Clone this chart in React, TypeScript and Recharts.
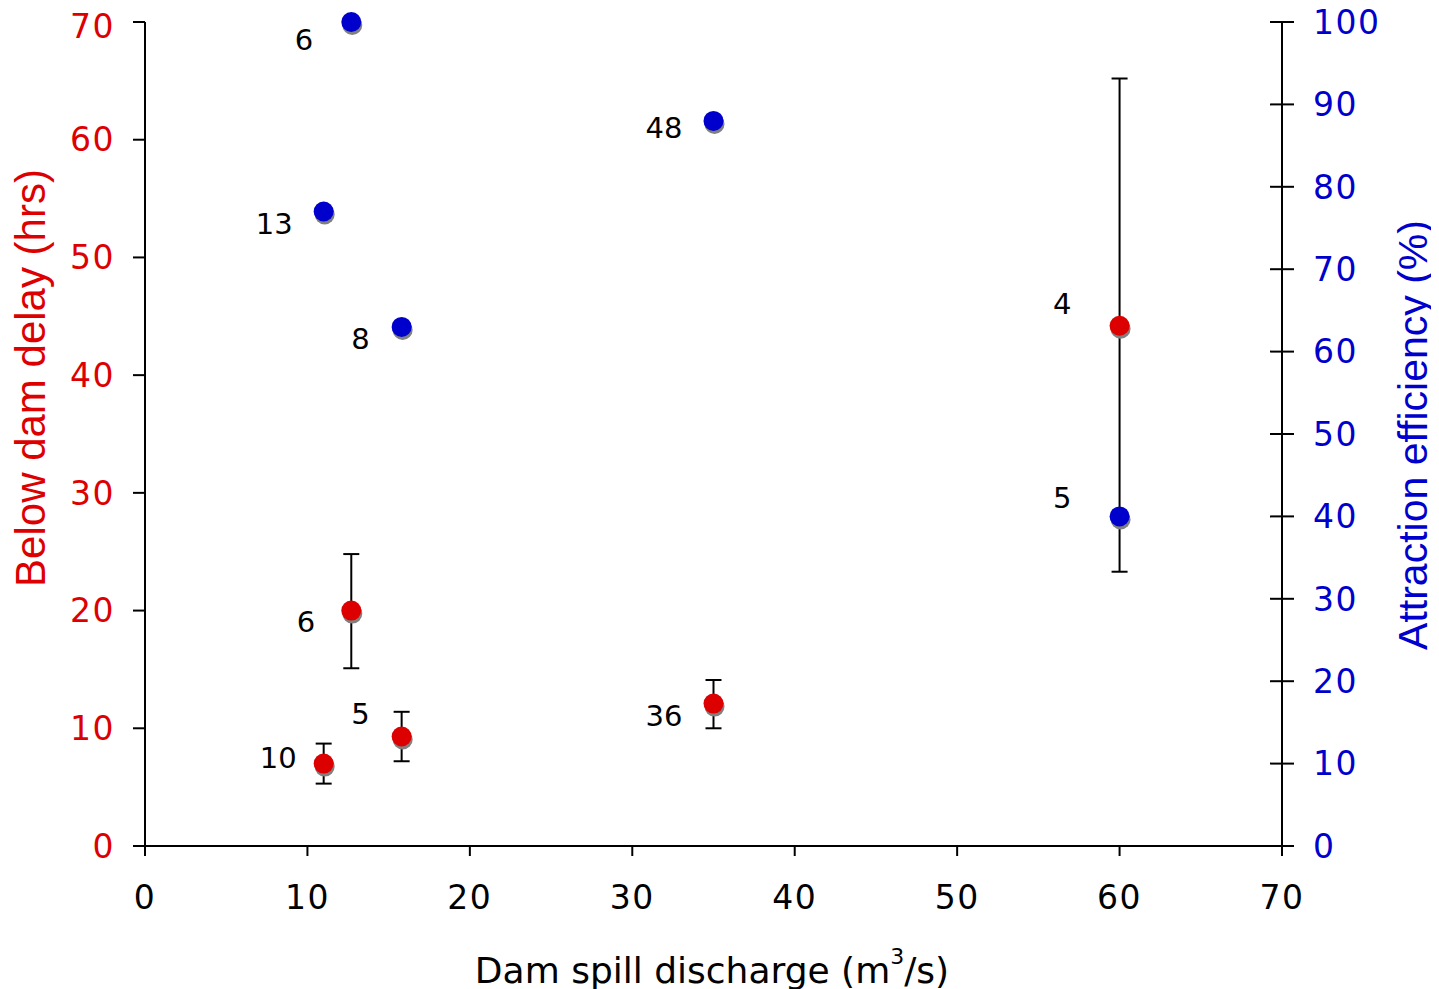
import { ScatterChart, Scatter, XAxis, YAxis, ErrorBar, Label } from 'recharts'

const RED = '#dd0000'
const BLUE = '#0000cc'

// below dam delay (left axis, hrs)
const delayDischarge = [11, 12.7, 15.8, 35, 60]
const delayHours = [7.0, 20.0, 9.3, 12.1, 44.2]
const delayErrLow = [1.7, 4.9, 2.1, 2.1, 20.9]
const delayErrHigh = [1.7, 4.8, 2.1, 2.0, 21.0]
const delayN = [10, 6, 5, 36, 4]

// attraction efficiency (right axis, %)
const effDischarge = [11, 12.7, 15.8, 35, 60]
const effPercent = [77, 100, 63, 88, 40]
const effN = [13, 6, 8, 48, 5]

const xTicks = [0, 10, 20, 30, 40, 50, 60, 70]
const leftTicks = [0, 10, 20, 30, 40, 50, 60, 70]
const rightTicks = [0, 10, 20, 30, 40, 50, 60, 70, 80, 90, 100]

// where each n label sits relative to its dot: [right edge dx, dy]
const delayLabelNudge = [[-27, -6], [-36, 11], [-32, -23], [-31, 12], [-48, -22]]
const effLabelNudge = [[-31, 12], [-38, 18], [-32, 12], [-31, 7], [-48, -18]]

const delayData = delayDischarge.map((x, i) => ({
  x, y: delayHours[i], err: [delayErrLow[i], delayErrHigh[i]], n: delayN[i], i,
}))
const effData = effDischarge.map((x, i) => ({ x, y: effPercent[i], n: effN[i], i }))

const TICK_FONT = 33
const TITLE_FONT = '"Liberation Sans", Arial, sans-serif'

function makeDot(color: string, nudges: number[][]) {
  return (props: any) => {
    const { cx, cy, payload } = props
    const [dx, dy] = nudges[payload.i]
    return (
      <g>
        <circle cx={cx + 1} cy={cy + 3} r={10} fill="#808080" />
        <circle cx={cx} cy={cy} r={10} fill={color} />
        <text x={cx + dx} y={cy + dy} textAnchor="end" dominantBaseline="central" fontSize={29} fill="#000">
          {payload.n}
        </text>
      </g>
    )
  }
}

function RightTick(props: any) {
  const { x, y, payload } = props
  // tick line crosses the axis: draw the inner half here
  return (
    <g>
      <line x1={x - 31 - 12} y1={y} x2={x - 31} y2={y} stroke="#000" strokeWidth={2} />
      <text x={x} y={y} dy="0.355em" textAnchor="start" fontSize={TICK_FONT} letterSpacing={1.5} fill={BLUE}>
        {payload.value}
      </text>
    </g>
  )
}

export default function App() {
  const axisStroke = { stroke: '#000', strokeWidth: 2 }
  return (
    <div style={{ fontFamily: '"DejaVu Sans", Verdana, sans-serif' }}>
      <ScatterChart width={1431} height={981} margin={{ top: 14, right: 0, bottom: 0, left: 0 }}>
        <XAxis
          type="number" dataKey="x" xAxisId="x" domain={[0, 70]} ticks={xTicks}
          height={143} tickSize={10} tickMargin={30}
          axisLine={axisStroke} tickLine={axisStroke}
          tick={{ fill: '#000', fontSize: TICK_FONT, letterSpacing: 1.5 }}
        >
          <Label
            content={() => (
              <text x={704} y={962} textAnchor="middle" dominantBaseline="central" fontSize={36} fill="#000">
                Dam spill discharge (m<tspan dy={-14} fontSize={22}>3</tspan><tspan dy={14}>/s)</tspan>
              </text>
            )}
          />
        </XAxis>
        <YAxis
          type="number" dataKey="y" yAxisId="left" orientation="left" domain={[0, 70]} ticks={leftTicks}
          width={137} tickSize={12} tickMargin={18}
          axisLine={axisStroke} tickLine={axisStroke}
          tick={{ fill: RED, fontSize: TICK_FONT, letterSpacing: 1.5 }}
        >
          <Label
            content={() => (
              <text x={22} y={370} transform="rotate(-90, 22, 370)" textAnchor="middle" dominantBaseline="central"
                fontFamily={TITLE_FONT} fontSize={42} fill={RED}>
                Below dam delay (hrs)
              </text>
            )}
          />
        </YAxis>
        <YAxis
          type="number" dataKey="y" yAxisId="right" orientation="right" domain={[0, 100]} ticks={rightTicks}
          width={157} tickSize={12} tickMargin={19}
          axisLine={axisStroke} tickLine={axisStroke}
          tick={<RightTick />}
        >
          <Label
            content={() => (
              <text x={1405} y={427} transform="rotate(-90, 1405, 427)" textAnchor="middle" dominantBaseline="central"
                fontFamily={TITLE_FONT} fontSize={41} fill={BLUE}>
                Attraction efficiency (%)
              </text>
            )}
          />
        </YAxis>
        <Scatter data={delayData} xAxisId="x" yAxisId="left" shape={makeDot(RED, delayLabelNudge)} isAnimationActive={false}>
          <ErrorBar dataKey="err" direction="y" width={8} stroke="#000" strokeWidth={2} isAnimationActive={false} />
        </Scatter>
        <Scatter data={effData} xAxisId="x" yAxisId="right" shape={makeDot(BLUE, effLabelNudge)} isAnimationActive={false} />
      </ScatterChart>
    </div>
  )
}
